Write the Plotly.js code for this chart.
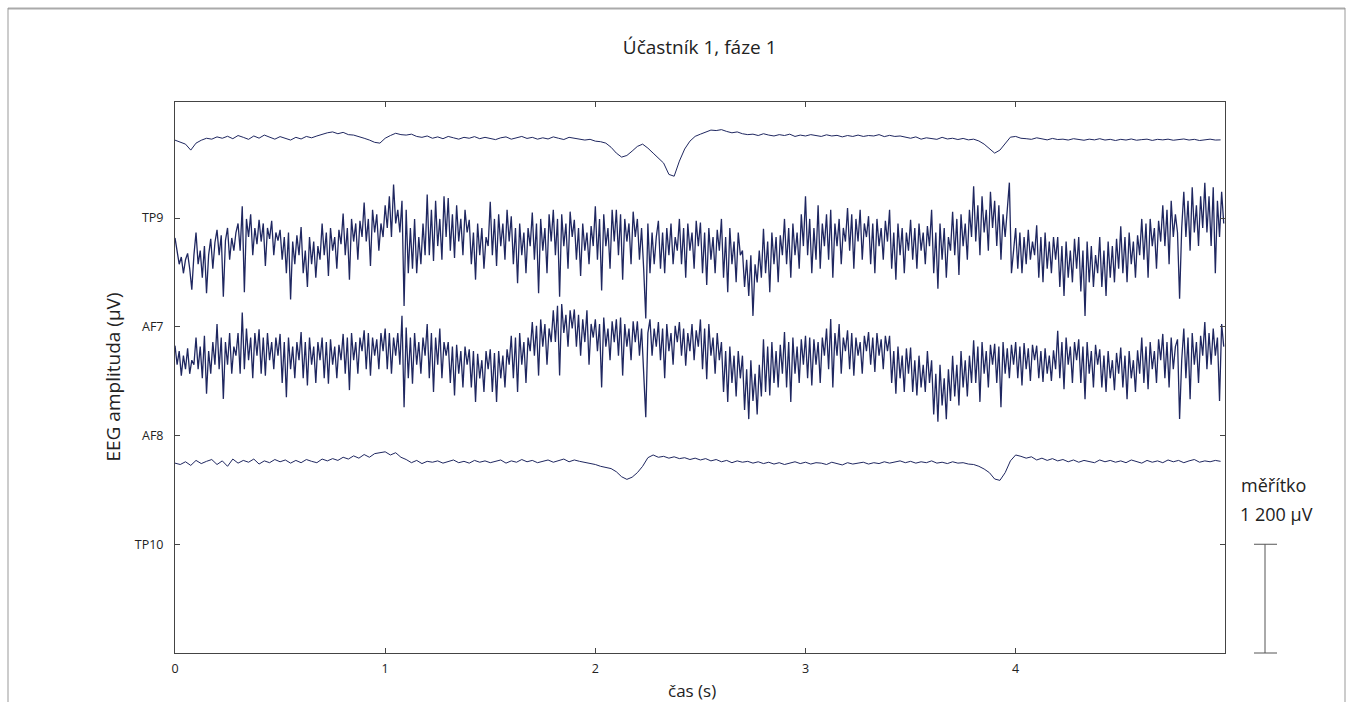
<!DOCTYPE html>
<html>
<head>
<meta charset="utf-8">
<script src="https://cdn.plot.ly/plotly-3.0.1.min.js"></script>
<style>html,body{margin:0;padding:0;background:#fff;}#chart{width:1352px;height:702px;}</style>
</head>
<body>
<div id="chart"></div>
<script>
// channel names (top to bottom) and their stacking offsets (µV)
const channels = ['TP9', 'AF7', 'AF8', 'TP10'];
const channelOffsets = [4800, 3600, 2400, 1200];
const tickLabels = ['TP10', 'AF8', 'AF7', 'TP9'];
const tickValues = [1200, 2400, 3600, 4800];
const xTicks = [0, 1, 2, 3, 4];
const fsSlow = 40;   // samples per second of the smooth channels as read
const fsFast = 100;  // samples per second of the noisy channels as read

// raw amplitudes in µV
const tp9 = [
859,837,815,749,826,858,880,870,895,880,
902,875,910,890,868,905,881,915,892,870,
898,880,860,890,872,900,885,905,925,940,
950,930,945,920,915,900,880,860,835,826,
880,910,935,920,915,925,900,890,905,880,
895,875,900,885,870,890,880,898,875,890,
880,865,885,895,870,882,900,878,890,870,
885,872,895,880,866,890,878,870,860,868,
848,842,826,780,716,672,690,738,790,815,
771,716,661,606,481,461,628,761,848,901,
925,950,970,965,975,955,940,950,930,920,
925,910,930,915,905,920,910,925,900,915,
905,920,910,900,918,905,912,895,910,900,
915,900,910,905,920,898,912,900,905,890,
880,895,870,885,875,868,890,872,880,866,
878,862,870,850,815,760,716,749,820,892,
900,880,875,868,885,870,862,878,866,870,
860,875,865,858,870,862,875,860,868,855,
868,860,872,858,865,870,856,868,862,870,
858,866,872,860,868,855,865,870,860,862];

const af7 = [
980,840,690,770,590,740,810,640,410,790,
1040,690,840,540,890,370,790,970,640,930,
1070,790,1010,330,950,1090,740,980,840,1040,
1140,840,1330,380,1190,990,1240,790,1090,910,
1180,940,1140,670,1090,970,1170,790,1040,950,
1070,740,990,590,1040,300,940,690,1010,790,
1100,590,840,440,990,690,940,540,890,740,
1140,790,1040,560,1090,840,990,640,1070,910,
1250,790,1090,520,1190,940,1140,740,1170,990,
1370,940,1190,670,1290,1040,1240,840,1140,990,
1340,1090,1440,990,1570,1140,1290,1040,1390,230,
1290,590,1090,640,1190,590,990,690,1140,790,
1460,790,1290,725,1390,890,1190,740,1440,990,
1420,840,1240,760,1340,940,1190,790,1290,1040,
1180,690,1040,520,1140,790,1090,640,990,890,
1380,790,1190,670,1240,890,1140,740,1290,940,
1220,690,1090,480,1140,790,1040,590,1090,890,
1260,740,1140,370,1190,840,1090,590,1240,940,
1290,790,1190,330,1240,890,1140,640,1270,990,
1180,740,1090,560,1140,840,1040,690,1110,890,
1330,740,1190,400,1240,890,1090,640,1290,940,
1290,790,1240,520,1190,940,1140,690,1270,990,
1190,740,1090,640,90,1140,590,1040,690,990,
1170,640,1040,590,1090,790,1140,690,990,840,
1190,690,1090,540,1140,840,1040,640,1170,890,
1150,590,1040,460,1090,740,990,590,1070,840,
1190,540,990,380,1090,690,940,490,1040,790,
840,440,740,340,790,120,690,490,840,540,
1080,590,940,380,1040,690,990,490,1010,790,
1190,690,1090,540,1140,790,1040,640,1240,890,
1440,790,1190,590,1090,740,1340,640,1140,890,
1240,740,1290,540,1140,890,1190,690,1090,940,
1310,840,1240,640,1190,940,1290,740,1140,990,
1220,690,1140,590,1190,890,1090,740,1170,940,
1290,640,1040,520,1140,790,1090,590,1040,840,
1180,740,1090,640,1140,840,1040,690,1110,890,
1290,590,1040,420,1140,740,1090,540,990,840,
1270,790,1190,570,1240,890,1140,740,1290,990,
1550,940,1340,790,1440,1040,1290,840,1490,1090,
1390,890,1340,740,1240,990,1290,1590,590,840,
1090,640,1040,590,990,690,1070,740,940,790,
1120,540,990,490,1040,640,940,590,990,740,
990,440,890,340,940,540,840,490,970,640,
990,390,840,120,940,490,890,440,790,590,
990,440,840,340,940,540,890,490,970,640,
1110,590,990,490,1040,690,940,540,1010,790,
1190,740,1140,540,1190,890,1090,640,1170,940,
1340,890,1290,690,1390,990,1240,1040,310,1090,
1490,990,1390,840,1540,1040,1340,890,1440,1090,
1590,1040,1440,890,1540,590,1390,990,1490,1140];

const af8 = [
991,781,931,661,881,731,961,681,831,781,
1081,731,981,631,1101,461,931,681,1031,781,
1231,731,1081,404,1031,781,1131,681,981,881,
1131,681,1358,731,1181,831,1081,631,1131,881,
1171,681,1081,661,1131,831,1031,731,1081,881,
1121,581,1031,421,1081,731,981,631,1031,831,
1141,631,1031,551,1081,781,981,581,1031,831,
1081,631,1031,571,1061,781,981,631,1001,831,
1121,681,1081,501,1131,831,1031,681,1081,931,
1161,731,1131,661,1081,881,1061,731,1131,931,
1181,731,1131,681,1081,881,1131,781,1321,311,
1191,631,1081,571,1131,781,1031,681,1081,881,
1231,631,1131,481,1081,781,1181,631,1031,881,
1031,581,981,441,1001,681,931,531,981,781,
951,531,931,371,901,631,831,481,931,731,
951,481,911,371,931,631,881,531,951,781,
1101,631,1081,481,1131,781,1031,581,1081,931,
1251,881,1211,661,1281,981,1231,781,1181,1031,
1381,1031,1431,661,1451,1131,1331,981,1381,1181,
1391,981,1331,881,1281,1031,1381,781,1231,1081,
1281,931,1231,531,1301,981,1181,831,1261,1031,
1281,881,1301,661,1231,981,1181,831,1261,1031,
1261,881,1181,731,201,1131,1281,881,1181,981,
1251,831,1181,631,1231,931,1131,781,1211,1031,
1251,881,1181,771,1131,931,1231,831,1161,981,
1281,731,1181,621,1231,881,1081,681,1131,831,
1031,481,931,371,981,581,881,431,931,631,
881,281,731,181,831,381,681,231,781,431,
1061,481,981,441,1031,581,931,531,1001,681,
1141,531,1031,371,1081,681,981,581,1061,781,
1101,631,1081,551,1061,781,1031,581,1081,881,
1181,731,1284,531,1131,881,1231,681,1081,931,
1161,731,1131,661,1081,881,1031,681,1101,931,
1141,781,1081,701,1131,881,1061,731,1101,931,
1101,581,931,461,981,631,881,481,961,681,
971,481,831,441,881,531,781,481,931,581,
831,231,681,151,781,331,631,181,731,381,
881,431,781,331,931,531,831,431,881,581,
1051,581,981,371,1031,681,931,531,1001,781,
1011,581,981,311,1031,681,961,631,1001,781,
1031,631,981,551,1021,731,961,601,1001,831,
991,631,931,591,961,681,881,601,941,731,
1156,631,1031,511,1081,781,981,581,1031,831,
1061,581,981,401,1031,681,931,531,1001,781,
951,531,881,481,931,631,831,501,911,681,
971,531,881,401,931,631,831,481,941,681,
1081,581,981,511,1031,731,931,581,1061,831,
1121,631,1031,531,1081,731,981,1061,181,831,
1181,631,1081,401,1131,781,1031,581,1101,881,
1251,731,1131,781,1181,881,1081,381,1231,981];

const tp10 = [
895,880,910,870,925,890,915,935,880,920,
860,940,895,925,905,940,885,920,900,935,
910,930,895,925,900,935,915,900,940,920,
945,925,960,940,975,950,990,960,1000,1010,
1020,985,1010,960,935,900,925,890,915,905,
920,895,910,930,900,915,895,925,905,920,
900,915,930,895,920,905,935,910,925,900,
915,930,905,925,940,910,930,915,905,890,
880,860,850,835,800,745,716,740,790,860,
955,985,960,970,950,965,945,955,935,950,
930,945,920,935,910,925,900,920,905,915,
895,910,890,905,885,900,880,895,910,890,
905,885,900,895,880,905,890,875,900,885,
895,905,885,900,890,910,895,905,920,900,
915,895,910,900,920,895,905,890,910,895,
900,885,880,860,830,790,720,705,790,920,
985,970,950,965,930,950,925,945,920,935,
910,930,905,925,915,900,930,910,925,905,
920,900,930,910,895,925,905,920,900,930,
910,925,900,920,935,905,920,910,925,915];

const series = [tp9, af7, af8, tp10];
const rates = [fsSlow, fsFast, fsFast, fsSlow];
const widths = [1, 1.3, 1.3, 1];
const lineColor = '#1f2760';

const traces = series.map((vals, k) => ({
  type: 'scatter',
  mode: 'lines',
  name: channels[k],
  x: vals.map((_, i) => i / rates[k]),
  y: vals.map(v => v + channelOffsets[k]),
  line: {color: lineColor, width: widths[k]},
  hoverinfo: 'skip'
}));

const font = 'Open Sans, Noto Sans, sans-serif';
const yTop = 6080;
const scaleTop = 1200 / yTop;

// figure frame (paper coordinates of the pixel edges)
const fx = px => (px - 175) / 1050;
const fy = py => (653 - py) / 551;

const layout = {
  width: 1352, height: 702,
  margin: {l: 175, r: 127, t: 102, b: 49},
  paper_bgcolor: '#ffffff', plot_bgcolor: '#ffffff',
  showlegend: false,
  font: {family: font, color: '#222', size: 12},
  title: {text: 'Účastník 1, fáze 1', font: {size: 19, color: '#222', family: font},
          x: 0.5175, xanchor: 'center', y: 0.933, yanchor: 'middle'},
  xaxis: {
    range: [0, 4.996], tickvals: xTicks, ticktext: xTicks.map(String),
    ticks: 'inside', ticklen: 5, tickcolor: '#444', mirror: 'ticks',
    showline: true, linecolor: '#444', linewidth: 1, showgrid: false, zeroline: false,
    tickfont: {size: 12.5, family: font, color: '#222'}, ticklabelstandoff: 4
  },
  yaxis: {
    range: [0, yTop], tickvals: tickValues, ticktext: tickLabels,
    ticks: 'inside', ticklen: 5, tickcolor: '#444', mirror: 'ticks',
    showline: true, linecolor: '#444', linewidth: 1, showgrid: false, zeroline: false,
    tickfont: {size: 12.5, family: font, color: '#222'}, ticklabelstandoff: 8
  },
  annotations: [
    {text: 'čas (s)', xref: 'paper', yref: 'paper', x: fx(692), y: fy(690),
     xanchor: 'center', yanchor: 'middle', showarrow: false,
     font: {size: 17, family: font, color: '#222'}},
    {text: 'EEG amplituda (µV)', textangle: -90, xref: 'paper', yref: 'paper',
     x: fx(112), y: 0.5, xanchor: 'center', yanchor: 'middle', showarrow: false,
     font: {size: 19, family: font, color: '#222'}},
    {text: 'měřítko', xref: 'paper', yref: 'paper', x: fx(1273), y: fy(485),
     xanchor: 'center', yanchor: 'middle', showarrow: false,
     font: {size: 18, family: font, color: '#222'}},
    {text: '1 200 µV', xref: 'paper', yref: 'paper', x: fx(1276), y: fy(514),
     xanchor: 'center', yanchor: 'middle', showarrow: false,
     font: {size: 18, family: font, color: '#222'}}
  ],
  shapes: [
    {type: 'line', xref: 'paper', yref: 'paper', x0: fx(1265), x1: fx(1265), y0: 0, y1: scaleTop,
     line: {color: '#555', width: 1}},
    {type: 'line', xref: 'paper', yref: 'paper', x0: fx(1254), x1: fx(1277), y0: 0, y1: 0,
     line: {color: '#555', width: 1}},
    {type: 'line', xref: 'paper', yref: 'paper', x0: fx(1254), x1: fx(1277), y0: scaleTop, y1: scaleTop,
     line: {color: '#555', width: 1}},
    {type: 'line', xref: 'paper', yref: 'paper', x0: fx(8), x1: fx(1345), y0: fy(8.5), y1: fy(8.5),
     line: {color: '#aaa', width: 2}},
    {type: 'line', xref: 'paper', yref: 'paper', x0: fx(8), x1: fx(8), y0: fy(8), y1: fy(705),
     line: {color: '#999', width: 1}},
    {type: 'line', xref: 'paper', yref: 'paper', x0: fx(1345), x1: fx(1345), y0: fy(8), y1: fy(705),
     line: {color: '#999', width: 1}}
  ]
};

Plotly.newPlot('chart', traces, layout, {staticPlot: true, displayModeBar: false});
</script>
</body>
</html>
